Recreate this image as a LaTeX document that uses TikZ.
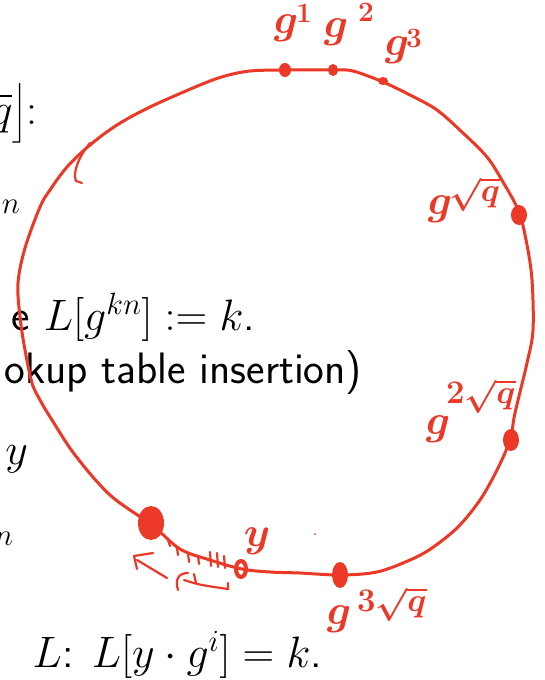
\RequirePackage{fix-cm}
\documentclass[tikz,border=0pt]{standalone}
\usepackage{amsmath}
\definecolor{hand}{RGB}{236,56,38}
\begin{document}
\begin{tikzpicture}[x=1pt,y=-1pt,
  ink/.style={draw=hand,line width=3pt,line cap=round,line join=round},
  thinink/.style={draw=hand,line width=2.2pt,line cap=round,line join=round},
  dotmark/.style={fill=hand},
  slide/.style={inner sep=0pt,outer sep=0pt,font=\fontsize{44}{52}\selectfont},
  small/.style={inner sep=0pt,outer sep=0pt,font=\fontsize{31}{36}\selectfont},
  hlab/.style={inner sep=0pt,text=hand,font=\fontsize{42}{48}\selectfont\boldmath},
  hsup/.style={inner sep=0pt,text=hand,font=\fontsize{28}{34}\selectfont\boldmath},
  hroot/.style={inner sep=0pt,text=hand,font=\fontsize{33}{38}\selectfont\boldmath}]
\useasboundingbox (0,0) rectangle (544,680);
\clip (0,0) rectangle (544,680);
\fill[white] (0,0) rectangle (544,680);

% slide text behind the sketch
\node[slide,anchor=base east] (t1) at (38,124) {$\big\lfloor\sqrt{q}\big\rfloor$:};
\node[small,anchor=base east] (t2) at (20,213) {$n$};
\node[slide,anchor=base east] (t3) at (255,330) {\sffamily e $L[g^{kn}] := k$.};
\node[slide,anchor=base east] (t4) at (362,383) {\sffamily okup table insertion)};
\node[slide,anchor=base east] (t5) at (28,464) {$y$};
\node[small,anchor=base east] (t6) at (13,545) {$n$};
\node[slide,anchor=base east] (t7) at (322,667) {\sffamily $L$: $L[y\cdot g^i] = k$.};

% the cycle
\draw[ink] plot[smooth cycle, tension=0.55] coordinates {
 (250,71) (283,70) (333,70) (353,71) (383,82) (410,95) (437,110) (463,133)
 (487,157) (503,182) (519,212) (527,245) (532,280) (533,330) (527,363)
 (515,413) (510,440) (497,470) (480,500) (458,527) (432,548) (410,560)
 (377,572) (340,575) (300,573) (270,572) (242,569) (210,560) (180,549)
 (152,525) (110,495) (75,455) (52,420) (40,400) (32,383) (25,350) (20,317)
 (18,283) (25,248) (40,207) (50,190) (67,167) (90,145) (117,125) (150,107)
 (200,85) (225,76)};
% small hook on the upper left
\draw[thinink] (90,143) .. controls (80,155) and (72,172) .. (76,181) -- (82,183);

% marked points
\fill[dotmark] (285,70) ellipse (6 and 7);
\filldraw[dotmark,draw=hand,line width=2pt] (333,70) ellipse (4 and 5);
\fill[dotmark] (383,81) ellipse (5 and 4);
\fill[dotmark] (519,215) ellipse (8 and 10);
\fill[dotmark] (511,440) ellipse (8 and 11);
\fill[dotmark] (340,575) ellipse (8 and 13);
\draw[hand,line width=4pt] (241,569) ellipse (5 and 8);
\fill[dotmark] (151,523) ellipse (13 and 17);
\fill[dotmark] (315,534) circle (1);

% steps between the blob and y
\foreach \a/\b/\c/\d in {168/540/170/546,177/548/178/555,188/553/189/562,
  198/556/199/564,210/552/211/566,217/553/218/567,224/556/225/568}
  \draw[thinink] (\a,\b) -- (\c,\d);

% little arrows
\draw[thinink] (167,578) -- (137,560);
\draw[thinink] (153,553) -- (134,556) -- (137,569);
\draw[thinink] (178,590) .. controls (175,580) and (178,573) .. (188,573);
\draw[thinink] (184,580) .. controls (200,585) .. (228,589) -- (228,583);
\draw[thinink] (194,574) -- (196,583);

% handwritten labels
\node[hlab,anchor=base] (g1) at (286,33) {$g$};
\node[hsup,anchor=base] (s1) at (304,22) {$1$};
\node[hlab,anchor=base] (g2) at (336,37) {$g$};
\node[hsup,anchor=base] (s2) at (366,21) {$2$};
\node[hlab,anchor=base] (g3) at (397,55) {$g$};
\node[hsup,anchor=base] (s3) at (414,47) {$3$};
\node[hlab,anchor=base] (g4) at (440,214) {$g$};
\node[hroot,anchor=base west] (s4) at (449,201) {$\sqrt{q}$};
\node[hlab,anchor=base] (g5) at (438,434) {$g$};
\node[hroot,anchor=base west] (s5) at (446,403) {$2\sqrt{q}$};
\node[hlab,anchor=base] (g6) at (339,624) {$g$};
\node[hroot,anchor=base west] (s6) at (357,611) {$3\sqrt{q}$};
\node[hlab,anchor=base] (ylab) at (257,546) {$y$};
\end{tikzpicture}
\end{document}
